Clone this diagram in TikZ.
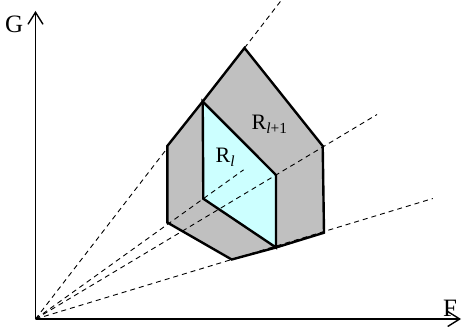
\documentclass[tikz,border=0pt]{standalone}
\usepackage{fontspec}
\setmainfont{Liberation Serif}
\usetikzlibrary{arrows.meta,calc}
\definecolor{regiongray}{RGB}{192,192,192}
\definecolor{regioncyan}{RGB}{204,255,255}
\tikzset{
  axis/.style={line width=1.8pt,-{Straight Barb[length=12pt,width=15pt,line width=1.4pt]}},
  ray/.style={line width=0.9pt,dash pattern=on 5pt off 4pt},
  edge/.style={line width=2.4pt,line join=miter},
  lbl/.style={inner sep=0pt,anchor=base west,font=\fontsize{22}{26}\selectfont},
  axlbl/.style={inner sep=0pt,anchor=base west,font=\fontsize{25}{30}\selectfont}
}
\begin{document}
\begin{tikzpicture}[x=1pt,y=-1pt]
\useasboundingbox (0,0) rectangle (462,326);
% coordinates
\coordinate (O) at (35.5,319);
\coordinate (T) at (244.5,48);
\coordinate (UL) at (202.7,101.5);
\coordinate (LT) at (167.3,146);
\coordinate (LB) at (167.3,222.5);
\coordinate (B) at (231.7,259.5);
\coordinate (IB) at (276,247.5);
\coordinate (RB) at (324,232.7);
\coordinate (RT) at (322.7,146);
\coordinate (IRT) at (276,175);
\coordinate (ILB) at (203.3,198.7);
\coordinate (Yend) at (35.5,11);
\coordinate (Xend) at (461,319);
\coordinate (Aend) at ($(O)!1.175!(T)$);
\coordinate (Bend) at ($(O)!1.24!(ILB)$);
\coordinate (Cend) at ($(O)!1.42!(IRT)$);
\coordinate (Dend) at ($(O)!2.025!(B)$);
% ray hidden behind the regions
\draw[ray] (O) -- (Aend);
% fills
\fill[regiongray] (T) -- (UL) -- (LT) -- (LB) -- (B) -- (IB) -- (RB) -- (RT) -- cycle;
\fill[regioncyan] (UL) -- (IRT) -- (IB) -- (ILB) -- cycle;
% rays over the regions
\draw[ray] (O) -- (Bend);
\draw[ray] (O) -- (Cend);
\draw[ray] (O) -- (Dend);
% edges
\draw[edge] (T) -- (UL) -- (LT) -- (LB) -- (B) -- (IB) -- (RB) -- (RT) -- cycle;
\draw[edge] (UL) -- (IRT) -- (IB) -- (ILB) -- cycle;
% axes
\draw[axis] (O) -- (Yend);
\draw[axis] (O) -- (Xend);
% labels
\node[axlbl] (G) at (5,33) {G};
\node[axlbl] (F) at (443,316) {F};
\node[lbl] (Rl) at (215.5,162.5) {R\textsubscript{\textit{l}}};
\node[lbl] (Rl1) at (251.5,129.5) {R\textsubscript{\textit{l}+1}};
\end{tikzpicture}
\end{document}
